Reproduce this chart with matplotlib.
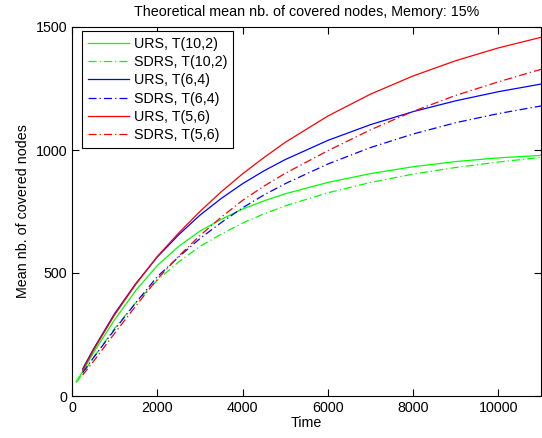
import matplotlib
matplotlib.use('Agg')
import matplotlib.pyplot as plt

plt.rcParams['font.family'] = ['Liberation Sans', 'DejaVu Sans']

# time grid (green curves start a bit earlier than the others)
time_g = [100, 250, 500, 1000, 1500, 2000, 2500, 3000, 3500, 4000, 4500, 5000,
          6000, 7000, 8000, 9000, 10000, 11000]
time_rb = time_g[1:]

urs_10_2 = [58, 100, 175, 310, 430, 530, 608, 670, 718, 760, 793, 822,
            868, 904, 932, 953, 968, 978]
sdrs_10_2 = [55, 90, 155, 275, 380, 470, 545, 608, 658, 703, 740, 773,
             826, 868, 902, 929, 951, 970]
urs_6_4 = [110, 190, 335, 458, 565, 655, 735, 803, 863, 915, 961,
           1039, 1103, 1156, 1200, 1237, 1268]
sdrs_6_4 = [95, 155, 270, 380, 485, 565, 640, 705, 765, 817, 863,
            943, 1010, 1065, 1111, 1148, 1179]
urs_5_6 = [105, 185, 330, 455, 567, 662, 750, 830, 903, 969, 1031,
           1138, 1227, 1301, 1363, 1415, 1458]
sdrs_5_6 = [85, 140, 255, 367, 475, 568, 652, 727, 795, 853, 905,
            997, 1082, 1157, 1222, 1277, 1328]

fs = 10.3
dashdot = (0, (6.4, 2.5, 1, 2.5))

fig = plt.figure(figsize=(5.42, 4.38), dpi=100)
ax = fig.add_axes([72/542, 42/438, 469/542, 369/438])

ax.plot(time_g, urs_10_2, '-', color=(0, 1, 0), lw=0.9, label='URS, T(10,2)')
ax.plot(time_g, sdrs_10_2, ls=dashdot, color=(0, 1, 0), lw=0.9, label='SDRS, T(10,2)')
ax.plot(time_rb, urs_6_4, '-', color=(0, 0, 1), lw=0.9, label='URS, T(6,4)')
ax.plot(time_rb, sdrs_6_4, ls=dashdot, color=(0, 0, 1), lw=0.9, label='SDRS, T(6,4)')
ax.plot(time_rb, urs_5_6, '-', color=(1, 0, 0), lw=0.9, label='URS, T(5,6)')
ax.plot(time_rb, sdrs_5_6, ls=dashdot, color=(1, 0, 0), lw=0.9, label='SDRS, T(5,6)')

ax.set_xlim(0, 11000)
ax.set_ylim(0, 1500)
ax.set_xticks([0, 2000, 4000, 6000, 8000, 10000])
ax.set_yticks([0, 500, 1000, 1500])
ax.tick_params(direction='in', top=True, right=True, length=5, labelsize=fs)
for s in ax.spines.values():
    s.set_linewidth(0.8)

ax.set_xlabel('Time', fontsize=fs, labelpad=1)
ax.set_ylabel('Mean nb. of covered nodes', fontsize=fs)
ax.set_title('Theoretical mean nb. of covered nodes, Memory: 15%', fontsize=fs, pad=8)

leg = ax.legend(loc='upper left', bbox_to_anchor=(0.0213, 0.989), borderaxespad=0,
                fontsize=fs, handlelength=2.9, handletextpad=0.35,
                labelspacing=0.3, borderpad=0.4, fancybox=False, framealpha=1)
leg.get_frame().set_edgecolor('black')
leg.get_frame().set_linewidth(0.8)

fig.savefig('out.png', dpi=100)
